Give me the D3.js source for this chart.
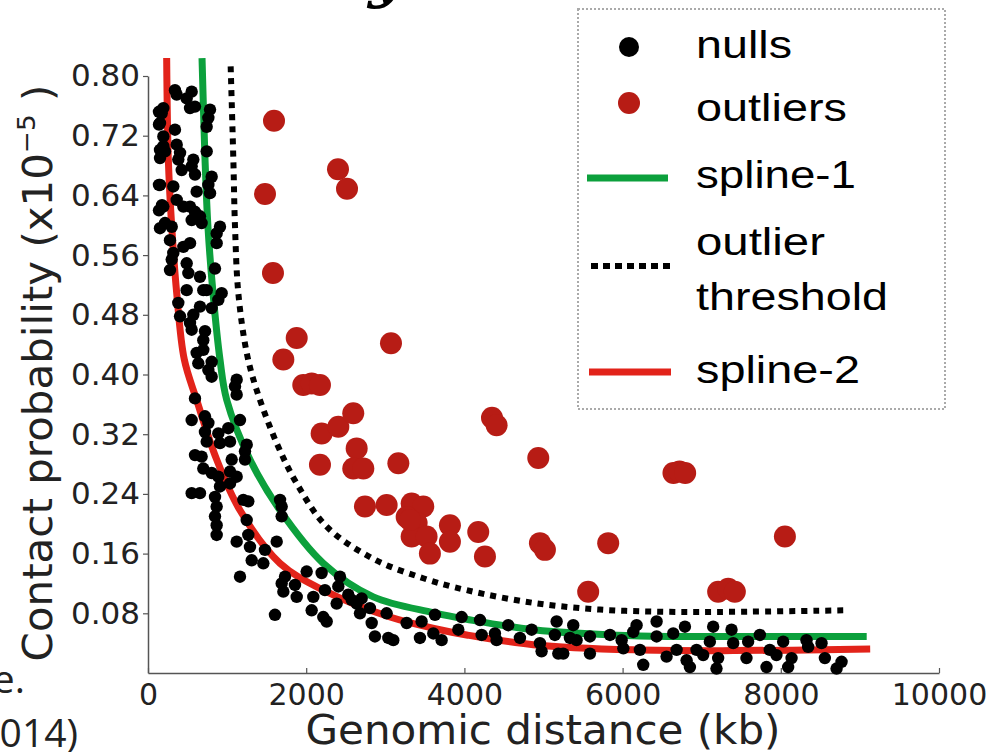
<!DOCTYPE html>
<html>
<head>
<meta charset="utf-8">
<script src="https://cdn.jsdelivr.net/npm/d3@7"></script>
<style>
  body { margin: 0; background: #fff; }
  svg { display: block; }
</style>
</head>
<body>
<svg width="1000" height="752"></svg>
<script>
// genomic distance (kb), contact probability (x1e-5)
var nulls = [
  [341,0.781],[363,0.775],[489,0.770],[552,0.779],[531,0.757],[594,0.759],[784,0.755],[763,0.744],[742,0.732],
  [194,0.757],[173,0.750],[152,0.737],[341,0.728],[194,0.719],[194,0.706],[215,0.699],[363,0.708],[405,0.697],
  [383,0.688],[426,0.674],[573,0.688],[552,0.679],[594,0.668],[742,0.699],[805,0.665],[763,0.654],[784,0.643],
  [615,0.645],[152,0.654],[320,0.652],[363,0.634],[194,0.625],[447,0.625],[531,0.625],[594,0.618],[657,0.612],
  [678,0.603],[552,0.607],[215,0.603],[300,0.598],[278,0.580],[447,0.571],[531,0.576],[910,0.598],[868,0.589],
  [868,0.576],[320,0.563],[300,0.554],[278,0.540],[489,0.549],[510,0.536],[489,0.513],[657,0.531],[699,0.513],
  [742,0.513],[847,0.542],[931,0.509],[889,0.500],[805,0.489],[657,0.491],[573,0.480],[531,0.469],[552,0.460],
  [383,0.496],[405,0.478],[721,0.458],[699,0.446],[699,0.433],
  [139,0.752],[152,0.701],[139,0.654],[139,0.620],[152,0.596],[177,0.627],[152,0.690],[139,0.735],
  [615,0.429],[636,0.415],[805,0.417],[763,0.406],[805,0.397],[1121,0.393],[1100,0.384],[1121,0.373],[594,0.368],
  [552,0.339],[720,0.344],[763,0.335],[720,0.323],[742,0.310],[889,0.321],[910,0.308],[1015,0.328],[1037,0.310],
  [1163,0.339],[1248,0.306],[1226,0.297],[1226,0.286],[594,0.292],[678,0.290],[699,0.274],[805,0.268],[889,0.263],
  [910,0.250],[1058,0.286],[1037,0.270],[1037,0.254],[1121,0.263],[552,0.241],[657,0.241],[847,0.236],[868,0.223],
  [847,0.210],[868,0.198],[868,0.185],[1205,0.232],[1268,0.230],[1248,0.205],[1121,0.176],[1268,0.185],[1289,0.169],
  [1311,0.151],[1479,0.165],[1458,0.147],[1627,0.176],[1163,0.129],[1669,0.232],[1690,0.223],[1690,0.210],[1732,0.129],
  [1690,0.120],[1711,0.109],[1858,0.118],[1880,0.102],[2006,0.136],[2090,0.102],[2069,0.084],[2195,0.134],[2237,0.111],
  [2216,0.075],[2259,0.069],[2385,0.093],[2427,0.129],[2406,0.116],[2532,0.105],[2575,0.098],[2638,0.093],[2680,0.080],
  [2701,0.100],[2806,0.087],[2828,0.067],[2869,0.049],[3017,0.080],[3038,0.047],[3101,0.044],[1605,0.078],
  [3270,0.067],[3459,0.069],[3438,0.047],[3607,0.053],[3628,0.078],[3712,0.044],[3965,0.075],[3923,0.058],[4197,0.071],
  [4218,0.051],[4386,0.053],[4407,0.044],[4554,0.064],[4702,0.047],[4850,0.058],[4955,0.040],[4976,0.029],[5166,0.069],
  [5144,0.051],[5187,0.026],[5250,0.026],[5376,0.064],[5334,0.047],[5418,0.044],[5587,0.049],[5587,0.026],[5840,0.051],
  [5988,0.044],[6009,0.033],[6177,0.064],[6135,0.055],[6219,0.031],[6261,0.011],[6430,0.069],[6430,0.049],[6640,0.053],
  [6556,0.022],[6683,0.031],[6788,0.062],[6809,0.017],[6935,0.031],[7019,0.024],[7145,0.062],[7103,0.042],[7208,0.020],
  [7377,0.058],[7398,0.040],[7587,0.042],[7566,0.020],[7735,0.051],[7861,0.031],[7819,0.008],[8030,0.042],[7945,0.024],
  [8136,0.020],[8093,0.008],[8325,0.044],[8346,0.035],[8515,0.040],[8557,0.020],[8768,0.015],[8705,0.006],[6851,0.008],
  [7187,0.006]
];

var outliers = [
  [1593,0.740],[1479,0.642],[2402,0.675],[2516,0.649],[1580,0.536],[1880,0.449],[1711,0.420],[3072,0.442],
  [1963,0.386],[2069,0.388],[2174,0.386],[2195,0.321],[2406,0.330],[2595,0.348],[2638,0.301],[2595,0.274],
  [2722,0.274],[2174,0.279],[3165,0.281],[2743,0.223],[3017,0.225],[3333,0.227],[3480,0.223],[3270,0.209],
  [3396,0.201],[3333,0.183],[3522,0.183],[3564,0.160],[3312,0.205],
  [4349,0.342],[4407,0.332],[4934,0.288],[6643,0.268],[6720,0.270],[6791,0.268],
  [3817,0.198],[3817,0.176],[4175,0.189],[4260,0.156],[4955,0.174],[5018,0.165],[5818,0.174],
  [5565,0.109],[7208,0.109],[7335,0.113],[7419,0.109],[8052,0.183]
];

var spline1 = [
  [683,0.824],[721,0.688],[758,0.598],[822,0.509],[910,0.420],[995,0.366],[1289,0.286],[1669,0.218],
  [2216,0.147],[2848,0.102],[3607,0.081],[4028,0.072],[4870,0.058],[6135,0.050],[7400,0.049],[9086,0.049]
];

var threshold = [
  [1045,0.813],[1079,0.688],[1100,0.598],[1142,0.509],[1248,0.429],[1374,0.379],[1627,0.308],[1880,0.254],
  [2259,0.196],[2848,0.153],[3480,0.127],[4028,0.111],[4870,0.094],[5713,0.085],[6556,0.082],
  [7400,0.082],[8830,0.084]
];

var spline2 = [
  [236,0.824],[257,0.688],[300,0.598],[363,0.509],[459,0.420],[615,0.366],[868,0.286],[1163,0.218],
  [1669,0.147],[2216,0.111],[3059,0.075],[3691,0.058],[4028,0.051],[4870,0.038],[6135,0.031],[7400,0.030],[9130,0.032]
];

var xTicks = [0, 2000, 4000, 6000, 8000, 10000];
var yTicks = [0.08, 0.16, 0.24, 0.32, 0.40, 0.48, 0.56, 0.64, 0.72, 0.80];

var legendItems = ["nulls", "outliers", "spline-1", "outlier", "threshold", "spline-2"];

var svg = d3.select("svg");

var xScale = d3.scaleLinear().domain([0, 10000]).range([148, 939]);
var yScale = d3.scaleLinear().domain([0, 0.8]).range([673, 76]);

function fitWidth(sel, w) {
  var len = sel.node().getComputedTextLength();
  return w / len;
}

// axes
var xAxis = d3.axisBottom(xScale).tickValues(xTicks).tickFormat(d3.format("d")).tickSizeInner(-5).tickSizeOuter(0).tickPadding(11);
var xg = svg.append("g").attr("transform", "translate(0,673)").call(xAxis);
xg.select(".domain").attr("stroke", "#555").attr("stroke-width", 1.5);
xg.selectAll(".tick line").attr("stroke", "#555").attr("stroke-width", 1.2);
xg.selectAll(".tick text").attr("font-family", "DejaVu Sans").attr("font-size", 30).attr("fill", "#222").attr("dy", "0.71em");

var yAxis = d3.axisLeft(yScale).tickValues(yTicks).tickFormat(d3.format(".2f")).tickSizeInner(5).tickSizeOuter(0).tickPadding(3);
var yg = svg.append("g").attr("transform", "translate(148,0)").call(yAxis);
yg.select(".domain").attr("stroke", "#555").attr("stroke-width", 1.5);
yg.selectAll(".tick line").attr("stroke", "#555").attr("stroke-width", 1.2);
yg.selectAll(".tick text").attr("font-family", "DejaVu Sans").attr("font-size", 31).attr("fill", "#222");

// axis labels
var xl = svg.append("text")
  .attr("font-family", "DejaVu Sans").attr("font-size", 40).attr("fill", "#222")
  .attr("text-anchor", "middle")
  .text("Genomic distance (kb)");
xl.attr("transform", "translate(543,744) scale(" + fitWidth(xl, 475) + ",1)");

var yl = svg.append("text")
  .attr("font-family", "DejaVu Sans").attr("font-size", 40).attr("fill", "#222")
  .attr("text-anchor", "middle");
yl.append("tspan").text("Contact probability (x10");
yl.append("tspan").attr("font-size", 25).attr("dy", -17).text("\u22125");
yl.append("tspan").attr("dy", 17).text(" )");
yl.attr("transform", "translate(52,373) rotate(-90) scale(" + fitWidth(yl, 577) + ",1)");

// curves
var line = d3.line()
  .x(function (d) { return xScale(d[0]); })
  .y(function (d) { return yScale(d[1]); })
  .curve(d3.curveCatmullRom.alpha(0.5));

svg.append("path").datum(spline2).attr("d", line)
  .attr("fill", "none").attr("stroke", "#e2231a").attr("stroke-width", 7);
svg.append("path").datum(spline1).attr("d", line)
  .attr("fill", "none").attr("stroke", "#0ca03c").attr("stroke-width", 7);
svg.append("path").datum(threshold).attr("d", line)
  .attr("fill", "none").attr("stroke", "#000").attr("stroke-width", 6).attr("stroke-dasharray", "6,6");

// points
svg.append("g").selectAll("circle")
  .data(nulls)
  .enter()
  .append("circle")
  .attr("cx", function (d) { return xScale(d[0]); })
  .attr("cy", function (d) { return yScale(d[1]); })
  .attr("r", 6.2)
  .attr("fill", "#000");

svg.append("g").selectAll("circle")
  .data(outliers)
  .enter()
  .append("circle")
  .attr("cx", function (d) { return xScale(d[0]); })
  .attr("cy", function (d) { return yScale(d[1]); })
  .attr("r", 11)
  .attr("fill", "#b71c15");

// legend
var lg = svg.append("g");
lg.append("rect").attr("x", 578).attr("y", 9).attr("width", 367).attr("height", 400)
  .attr("fill", "#fff").attr("stroke", "#aaa").attr("stroke-width", 2).attr("stroke-dasharray", "2,2");
lg.append("circle").attr("cx", 629).attr("cy", 47).attr("r", 10).attr("fill", "#000");
lg.append("circle").attr("cx", 629).attr("cy", 103).attr("r", 11).attr("fill", "#b71c15");
lg.append("line").attr("x1", 587).attr("x2", 668).attr("y1", 178).attr("y2", 178)
  .attr("stroke", "#0ca03c").attr("stroke-width", 7);
lg.append("line").attr("x1", 591).attr("x2", 673).attr("y1", 266).attr("y2", 266)
  .attr("stroke", "#000").attr("stroke-width", 6).attr("stroke-dasharray", "7,5");
lg.append("line").attr("x1", 589).attr("x2", 671).attr("y1", 372).attr("y2", 372)
  .attr("stroke", "#e2231a").attr("stroke-width", 7);

var legendBase = [58, 121, 188, 255, 310, 383];
var legendWidth = [96, 151, 160, 129, 192, 164];
legendItems.forEach(function (t, i) {
  var tx = lg.append("text")
    .attr("font-family", "Liberation Sans, Arial, sans-serif").attr("font-size", 39).attr("fill", "#000")
    .text(t);
  tx.attr("transform", "translate(696," + legendBase[i] + ") scale(" + fitWidth(tx, legendWidth[i]) + ",1)");
});

// cropped slide text around the figure
svg.append("text").attr("x", 368).attr("y", -5)
  .attr("font-family", "DejaVu Serif").attr("font-style", "italic").attr("font-weight", "bold").attr("font-size", 64).attr("fill", "#000")
  .text("y");
svg.append("text").attr("x", 25).attr("y", 693).attr("text-anchor", "end")
  .attr("font-family", "Open Sans").attr("font-size", 39).attr("fill", "#222")
  .text("Ay, Bailey & Noble.");
svg.append("text").attr("x", 78).attr("y", 747).attr("text-anchor", "end")
  .attr("font-family", "Open Sans").attr("font-size", 39).attr("fill", "#222")
  .text("Genome Res. (2014)");
</script>
</body>
</html>
